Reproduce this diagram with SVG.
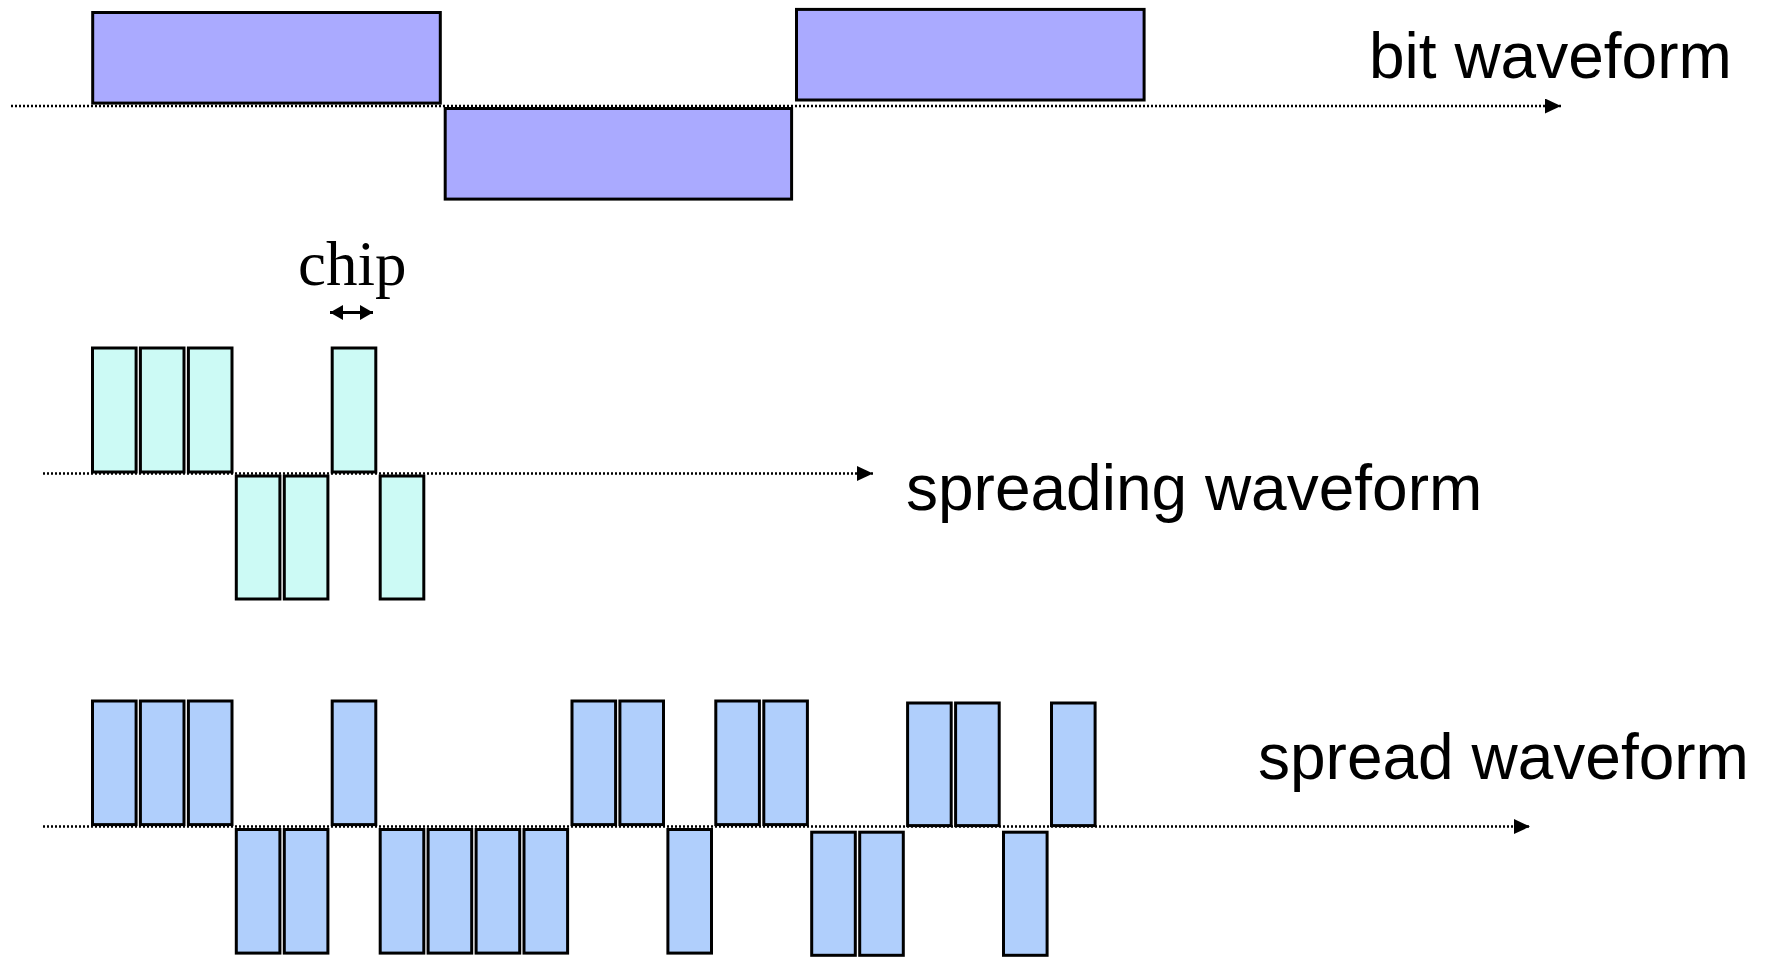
<svg xmlns="http://www.w3.org/2000/svg" width="1766" height="957" viewBox="0 0 1766 957">
  <defs>
    <style>
      .axis { stroke: #000; stroke-width: 2.5; stroke-dasharray: 2 2; fill: none; }
      .bit { fill: #AAAAFF; stroke: #000; stroke-width: 3; }
      .code { fill: #CCFAF5; stroke: #000; stroke-width: 3; }
      .spread { fill: #B0CFFC; stroke: #000; stroke-width: 3; }
      .label { font-family: "Liberation Sans", Arial, sans-serif; font-size: 64px; fill: #000; }
      .chip { font-family: "Liberation Serif", "Times New Roman", serif; font-size: 63px; fill: #000; }
    </style>
    <marker id="head" markerUnits="userSpaceOnUse" markerWidth="16" markerHeight="16" refX="16" refY="7.5" orient="auto">
      <path d="M0,0 L16,7.5 L0,15 Z" fill="#000"/>
    </marker>
    <marker id="tick" markerUnits="userSpaceOnUse" markerWidth="14" markerHeight="16" refX="13" refY="7.5" orient="auto-start-reverse">
      <path d="M0,0 L13,7.5 L0,15 Z" fill="#000"/>
    </marker>
  </defs>

  <rect width="1766" height="957" fill="#fff"/>

  <!-- time axes -->
  <g id="connectors">
    <line class="axis" x1="11" y1="106" x2="1561" y2="106" marker-end="url(#head)"/>
    <line class="axis" x1="43" y1="473.5" x2="873" y2="473.5" marker-end="url(#head)"/>
    <line class="axis" x1="43" y1="826.5" x2="1530" y2="826.5" marker-end="url(#head)"/>
    <line x1="330" y1="312.5" x2="373" y2="312.5" stroke="#000" stroke-width="3" marker-start="url(#tick)" marker-end="url(#tick)"/>
  </g>

  <!-- data bits -->
  <g id="bit-waveform">
    <rect class="bit" x="92.7" y="12.5" width="347.6" height="90.6"/>
    <rect class="bit" x="445.2" y="108.5" width="346.4" height="90.6"/>
    <rect class="bit" x="796.5" y="9.4" width="347.6" height="90.6"/>
    <text class="label" x="1369" y="78">bit waveform</text>
  </g>

  <!-- spreading code, one chip per column -->
  <g id="spreading-waveform">
    <rect class="code" x="92.5" y="348" width="43.6" height="124"/>
    <rect class="code" x="140.4" y="348" width="43.6" height="124"/>
    <rect class="code" x="188.4" y="348" width="43.6" height="124"/>
    <rect class="code" x="236.3" y="476" width="43.6" height="123"/>
    <rect class="code" x="284.3" y="476" width="43.6" height="123"/>
    <rect class="code" x="332.2" y="348" width="43.6" height="124"/>
    <rect class="code" x="380.2" y="476" width="43.6" height="123"/>
    <text class="label" x="906" y="510">spreading waveform</text>
  </g>

  <g id="chip-label">
    <text class="chip" x="298" y="285">chip</text>
  </g>

  <!-- product of bits and code -->
  <g id="spread-waveform">
    <rect class="spread" x="92.5" y="701" width="43.6" height="123.6"/>
    <rect class="spread" x="140.4" y="701" width="43.6" height="123.6"/>
    <rect class="spread" x="188.4" y="701" width="43.6" height="123.6"/>
    <rect class="spread" x="236.3" y="829.5" width="43.6" height="123.6"/>
    <rect class="spread" x="284.3" y="829.5" width="43.6" height="123.6"/>
    <rect class="spread" x="332.2" y="701" width="43.6" height="123.6"/>
    <rect class="spread" x="380.2" y="829.5" width="43.6" height="123.6"/>
    <rect class="spread" x="428.1" y="829.5" width="43.6" height="123.6"/>
    <rect class="spread" x="476.1" y="829.5" width="43.6" height="123.6"/>
    <rect class="spread" x="524" y="829.5" width="43.6" height="123.6"/>
    <rect class="spread" x="572" y="701" width="43.6" height="123.6"/>
    <rect class="spread" x="619.9" y="701" width="43.6" height="123.6"/>
    <rect class="spread" x="667.9" y="829.5" width="43.6" height="123.6"/>
    <rect class="spread" x="715.8" y="701" width="43.6" height="123.6"/>
    <rect class="spread" x="763.8" y="701" width="43.6" height="123.6"/>
    <rect class="spread" x="811.7" y="832.2" width="43.6" height="123.1"/>
    <rect class="spread" x="859.7" y="832.2" width="43.6" height="123.1"/>
    <rect class="spread" x="907.6" y="703" width="43.6" height="122.6"/>
    <rect class="spread" x="955.6" y="703" width="43.6" height="122.6"/>
    <rect class="spread" x="1003.5" y="832.2" width="43.6" height="123.1"/>
    <rect class="spread" x="1051.5" y="703" width="43.6" height="122.6"/>
    <text class="label" x="1258" y="779">spread waveform</text>
  </g>
</svg>
